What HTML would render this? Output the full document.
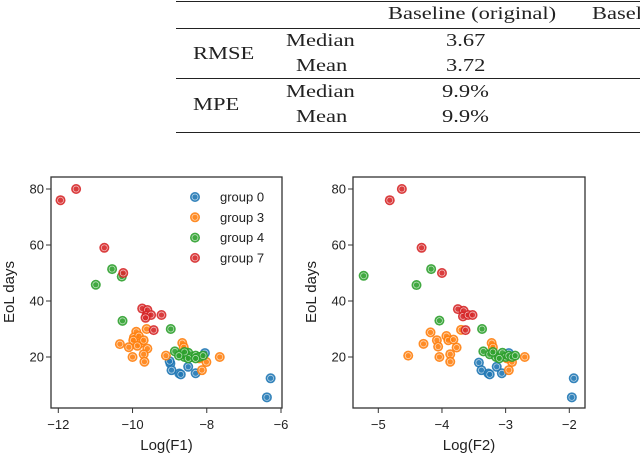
<!DOCTYPE html>
<html><head><meta charset="utf-8"><style>
body{margin:0;background:#fff;width:640px;height:456px;overflow:hidden;position:relative}
.tx{position:absolute;font-family:"Liberation Serif",serif;font-size:18px;color:#222;white-space:nowrap;transform:scaleX(1.25);transform-origin:left top}
.hl{position:absolute;left:176px;right:0;background:#222}
svg{position:absolute;left:0;top:0}
</style></head><body>
<div>
<div class="hl" style="top:1px;height:1.3px"></div>
<div class="hl" style="top:28px;height:1px"></div>
<div class="hl" style="top:78px;height:1px"></div>
<div class="hl" style="top:132px;height:1.3px"></div>
<div class="tx" style="left:388px;top:3px">Baseline (original)</div>
<div class="tx" style="left:592px;top:3px">Basel</div>
<div class="tx" style="left:193px;top:43px">RMSE</div>
<div class="tx" style="left:286px;top:30px">Median</div>
<div class="tx" style="left:296px;top:55px">Mean</div>
<div class="tx" style="left:446px;top:30px">3.67</div>
<div class="tx" style="left:446px;top:55px">3.72</div>
<div class="tx" style="left:193px;top:94px">MPE</div>
<div class="tx" style="left:286px;top:81px">Median</div>
<div class="tx" style="left:296px;top:106px">Mean</div>
<div class="tx" style="left:442px;top:81px">9.9%</div>
<div class="tx" style="left:442px;top:106px">9.9%</div>
</div>
<svg id="chart" width="640" height="456"></svg>
<script>
const groupNames=["group 0","group 3","group 4","group 7"];
const groupColors=["#1f77b4","#ff7f0e","#2ca02c","#d62728"];
const yTicks=[20,40,60,80];
const f1Ticks=[-12,-10,-8,-6];
const f2Ticks=[-5,-4,-3,-2];
// F1 panel data [x,y]
const f1Group0=[[-8.98,17.7],[-8.95,15.3],[-8.74,14.1],[-8.7,13.8],[-8.5,16.5],[-8.3,14.2],[-8.05,21.4],[-6.38,5.6],[-6.28,12.4],[-9.0,18.5]];
const f1Group3=[[-10.34,24.6],[-10.1,23.5],[-10,20],[-9.9,29],[-9.96,27],[-9.83,27.5],[-9.78,25],[-9.7,26],[-9.62,30],[-9.6,23],[-9.7,21],[-9.68,18.3],[-9.98,26],[-9.87,24],[-9.1,20.5],[-8.66,25],[-8.62,23.5],[-8.13,15.3],[-8.01,18.2],[-7.65,20],[-8.2,19.5]];
const f1Group4=[[-10.99,45.8],[-10.55,51.4],[-10.29,48.7],[-10.27,32.9],[-8.97,30],[-8.86,22],[-8.7,21],[-8.6,20],[-8.5,21.5],[-8.4,20],[-8.3,20.5],[-8.2,20],[-8.1,20.5],[-8.5,19.5],[-8.6,21.8],[-8.3,19.5],[-8.75,20.5]];
const f1Group7=[[-11.94,76],[-11.52,80],[-10.76,59],[-10.25,50],[-9.74,37.3],[-9.6,36.8],[-9.62,34.8],[-9.5,35],[-9.22,35],[-9.43,29.6],[-9.65,34]];
// F2 panel data
const f2Group0=[[-3.42,18],[-3.38,15.3],[-3.27,14.1],[-3.25,13.8],[-3.14,16.5],[-3.06,14.2],[-2.95,21.4],[-1.96,5.6],[-1.93,12.4]];
const f2Group3=[[-4.53,20.5],[-4.29,24.7],[-4.18,28.8],[-4.08,26],[-4.06,23.7],[-4.04,20],[-3.93,27.5],[-3.9,26],[-3.87,21],[-3.87,18.3],[-3.77,23.4],[-3.82,26.2],[-3.7,29.7],[-3.22,25],[-3.2,23.5],[-2.95,15.3],[-2.9,18.2],[-2.7,20],[-2.98,19.5]];
const f2Group4=[[-5.23,49],[-4.4,45.7],[-4.17,51.4],[-4.04,33],[-3.37,30],[-3.35,22],[-3.25,21],[-3.15,20],[-3.05,21.5],[-3.0,20],[-2.95,20.5],[-2.9,20],[-2.85,20.5],[-3.1,19.5],[-3.2,21.8]];
const f2Group7=[[-4.82,76],[-4.63,80],[-4.32,59],[-4,50],[-3.75,37.1],[-3.66,36.5],[-3.67,34.5],[-3.59,35],[-3.52,35],[-3.63,29.6]];

const NS="http://www.w3.org/2000/svg";
const svg=document.getElementById('chart');
function mk(tag,attrs,parent){const e=document.createElementNS(NS,tag);for(const k in attrs)e.setAttribute(k,attrs[k]);(parent||svg).appendChild(e);return e;}
const yScale=v=>357-(v-20)*2.8;
function panel(name,left,right,x0,x1,px0,px1,xticks,xlabel,groups,legend){
  const g=mk('g',{});
  
  
  const xs=v=>px0+(v-x0)*(px1-px0)/(x1-x0);
  const fr=mk('rect',{x:left,y:177,width:right-left,height:231,fill:'none',stroke:'#333','stroke-width':1.3},g);
  
  
  xticks.forEach(t=>{
    const x=xs(t);
    mk('line',{x1:x,x2:x,y1:408,y2:413,stroke:'#333','stroke-width':1},g);
    const tl=mk('text',{x:x,y:429,'text-anchor':'middle','font-size':13,'font-family':'Liberation Sans, sans-serif',fill:'#222'},g);
    tl.textContent=String(t).replace('-','\u2212');
    
    
  });
  yTicks.forEach(t=>{
    const y=yScale(t);
    mk('line',{x1:left-5,x2:left,y1:y,y2:y,stroke:'#333','stroke-width':1},g);
    const tl=mk('text',{x:left-7,y:y+4.5,'text-anchor':'end','font-size':13,'font-family':'Liberation Sans, sans-serif',fill:'#222'},g);
    tl.textContent=t;
    
    
  });
  const xl=mk('text',{x:(left+right)/2,y:450,'text-anchor':'middle','font-size':15,'font-family':'Liberation Sans, sans-serif',fill:'#222'},g);
  xl.textContent=xlabel;
  
  
  const yl=mk('text',{x:0,y:0,'text-anchor':'middle','font-size':15,'font-family':'Liberation Sans, sans-serif',fill:'#222',transform:`translate(${left-37},292) rotate(-90)`},g);
  yl.textContent='EoL days';
  
  
  groups.forEach((pts,gi)=>{
    pts.forEach(p=>{
      const c=mk('circle',{cx:xs(p[0]),cy:yScale(p[1]),r:5,fill:groupColors[gi],'fill-opacity':0.9},g);
      
      
      mk('circle',{cx:xs(p[0]),cy:yScale(p[1]),r:3,fill:'none',stroke:'#fff','stroke-width':0.7,'stroke-opacity':0.7},g);
    });
  });
  if(legend){
    groupNames.forEach((n,i)=>{
      const y=197+i*20.3;
      const lg=mk('g',{},g);
      
      
      mk('circle',{cx:195,cy:y,r:5,fill:groupColors[i],'fill-opacity':0.9},lg);
      mk('circle',{cx:195,cy:y,r:3,fill:'none',stroke:'#fff','stroke-width':0.7,'stroke-opacity':0.7},lg);
      const t=mk('text',{x:220,y:y+4.5,'font-size':13,'font-family':'Liberation Sans, sans-serif',fill:'#222'},lg);
      t.textContent=n;
    });
  }
}
panel('f1-scatter-panel',51,282,-12,-6,58.3,281,f1Ticks,'Log(F1)',[f1Group0,f1Group3,f1Group4,f1Group7],true);
panel('f2-scatter-panel',353,585,-5,-2,378.3,569.3,f2Ticks,'Log(F2)',[f2Group0,f2Group3,f2Group4,f2Group7],false);
</script>
</body></html>
